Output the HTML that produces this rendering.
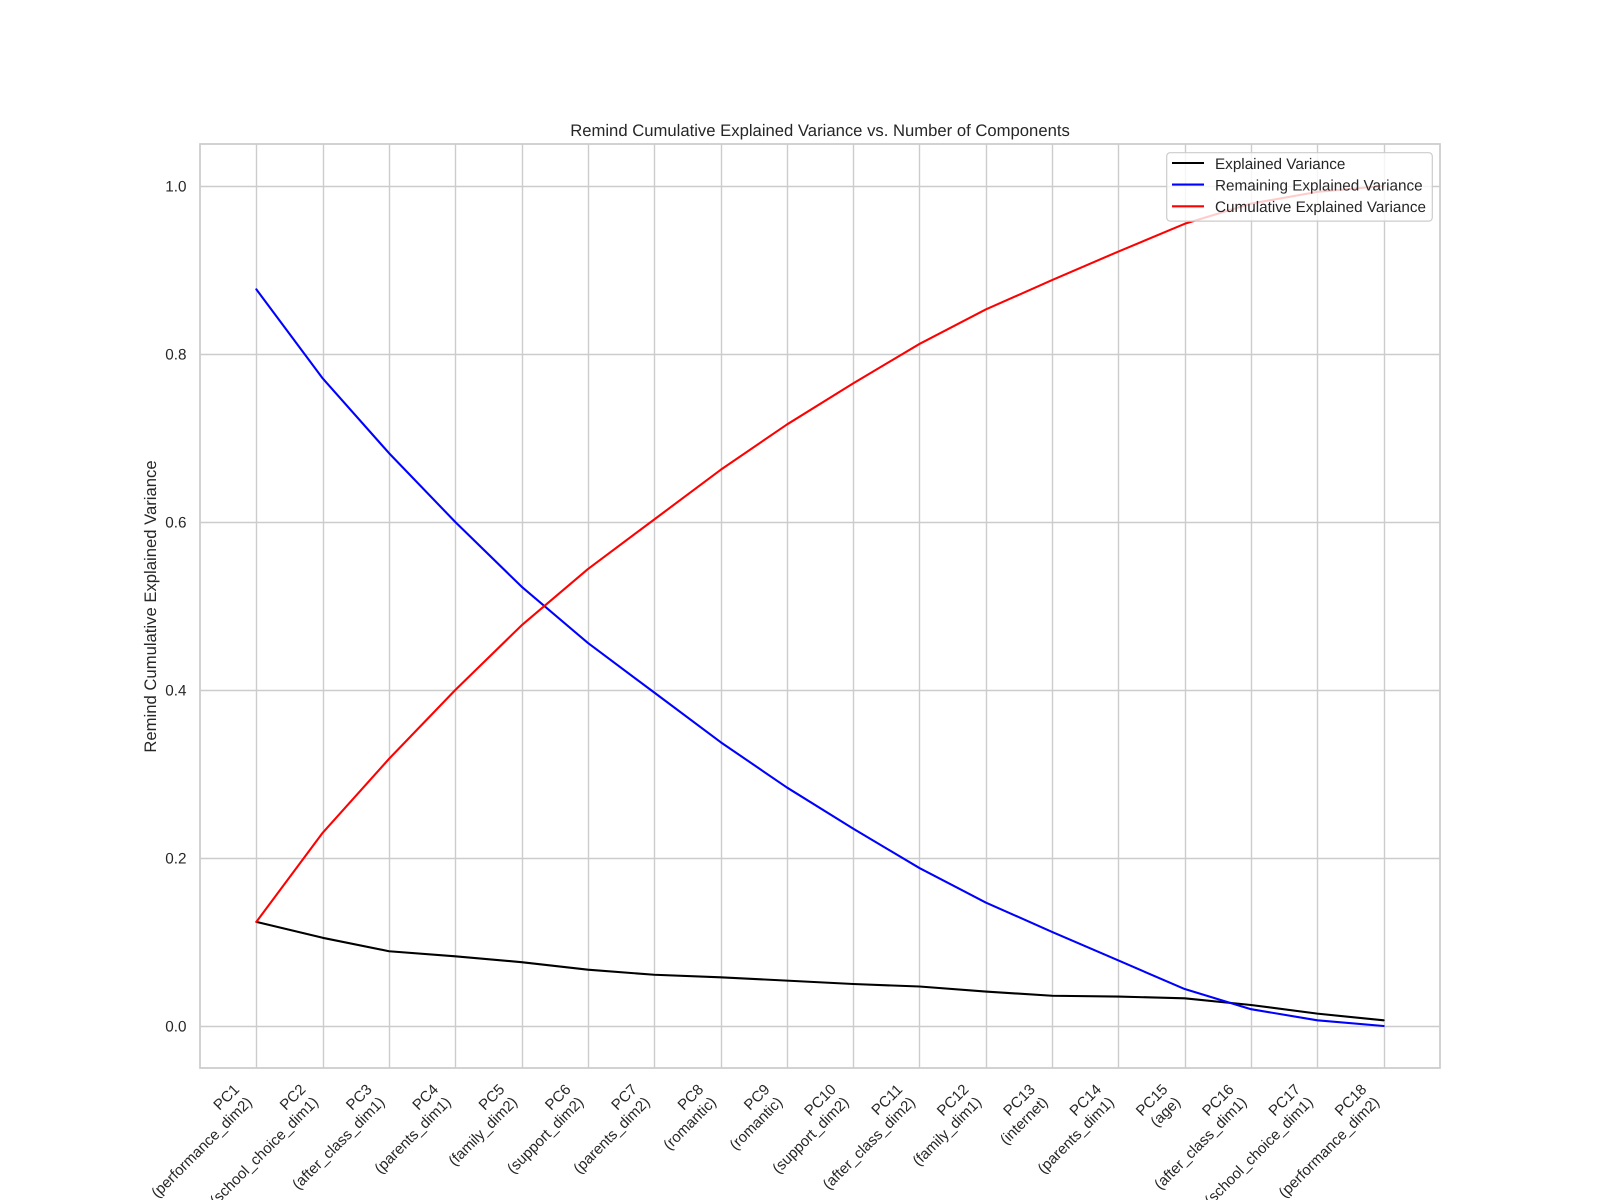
<!DOCTYPE html>
<html lang="en">
<head>
<meta charset="utf-8">
<title>Remind Cumulative Explained Variance vs. Number of Components</title>
<style>
html,body{margin:0;padding:0;background:#fff;width:1600px;height:1200px;overflow:hidden}
svg{display:block;font-family:"Liberation Sans",Arial,sans-serif;fill:#262626}
text{fill:#262626;font-size:15.28px;text-rendering:geometricPrecision}
#xticks text{font-size:15px}
</style>
</head>
<body>
<svg id="chart" xmlns="http://www.w3.org/2000/svg" width="1600" height="1200" viewBox="0 0 1600 1200">
  <rect x="0" y="0" width="1600" height="1200" fill="#fff"/>
  <g id="grid"></g>
  <g id="series"></g>
  <rect x="200" y="144" width="1240" height="924" fill="none" stroke="#cccccc" stroke-width="1.74"/>
  <g id="xticks"></g>
  <g id="yticks"></g>
  <text x="820" y="136" text-anchor="middle" style="font-size:16.67px">Remind Cumulative Explained Variance vs. Number of Components</text>
  <text transform="translate(156,606.5) rotate(-90)" text-anchor="middle" style="font-size:16.67px">Remind Cumulative Explained Variance</text>
  <g>
    <rect x="1166.7" y="152.7" width="265.6" height="68.4" rx="3.5" ry="3.5" fill="#fff" fill-opacity="0.8" stroke="#cccccc" stroke-width="1.2"/>
    <g>
      <line x1="1172" x2="1204" y1="163" y2="163" stroke="#000000" stroke-width="2.08"/>
      <text x="1215" y="169">Explained Variance</text>
    </g>
    <g>
      <line x1="1172" x2="1204" y1="184.6" y2="184.6" stroke="#0000ff" stroke-width="2.08"/>
      <text x="1215" y="190.5">Remaining Explained Variance</text>
    </g>
    <g>
      <line x1="1172" x2="1204" y1="206.3" y2="206.3" stroke="#ff0000" stroke-width="2.08"/>
      <text x="1215" y="212.2">Cumulative Explained Variance</text>
    </g>
  </g>
</svg>
<script>
const categories = ["PC1","PC2","PC3","PC4","PC5","PC6","PC7","PC8","PC9","PC10","PC11","PC12","PC13","PC14","PC15","PC16","PC17","PC18"];
const features = ["(performance_dim2)","(school_choice_dim1)","(after_class_dim1)","(parents_dim1)","(family_dim2)","(support_dim2)","(parents_dim2)","(romantic)","(romantic)","(support_dim2)","(after_class_dim2)","(family_dim1)","(internet)","(parents_dim1)","(age)","(after_class_dim1)","(school_choice_dim1)","(performance_dim2)"];
const explainedVariance = [0.124,0.105,0.089,0.083,0.076,0.067,0.061,0.058,0.054,0.050,0.047,0.041,0.036,0.035,0.033,0.025,0.0147,0.0068];
const remainingVariance = [0.877,0.771,0.682,0.600,0.523,0.456,0.397,0.338,0.284,0.235,0.188,0.147,0.112,0.078,0.044,0.020,0.0068,0.0];
const cumulativeVariance = [0.124,0.230,0.318,0.400,0.477,0.544,0.603,0.662,0.716,0.765,0.812,0.853,0.888,0.922,0.955,0.979,0.993,1.0];
const yTickValues = [0.0,0.2,0.4,0.6,0.8,1.0];

const NS = "http://www.w3.org/2000/svg";
const plot = {left:200,right:1440,top:144,bottom:1068};
const xMin = -0.05 * (categories.length - 1);
const xMax = (categories.length - 1) * 1.05;
const allValues = explainedVariance.concat(remainingVariance, cumulativeVariance);
const vMin = Math.min.apply(null, allValues);
const vMax = Math.max.apply(null, allValues);
const yMin = vMin - 0.05 * (vMax - vMin);
const yMax = vMax + 0.05 * (vMax - vMin);
function xScale(i){ return plot.left + (i - xMin) / (xMax - xMin) * (plot.right - plot.left); }
function yScale(v){ return plot.bottom - (v - yMin) / (yMax - yMin) * (plot.bottom - plot.top); }
function snap(p){ return Math.floor(p + 0.5) + 0.5; }

const grid = document.getElementById("grid");
const xticks = document.getElementById("xticks");
const yticks = document.getElementById("yticks");
const series = document.getElementById("series");

categories.forEach(function(cat, i){
  const x = xScale(i);
  const gl = document.createElementNS(NS, "line");
  
  
  gl.setAttribute("x1", snap(x)); gl.setAttribute("x2", snap(x));
  gl.setAttribute("y1", plot.top); gl.setAttribute("y2", plot.bottom);
  gl.setAttribute("stroke", "#cccccc"); gl.setAttribute("stroke-width", "1.39");
  grid.appendChild(gl);

  const t = document.createElementNS(NS, "text");
  
  
  t.setAttribute("transform", "translate(" + (x - 16.2) + ",1090.3) rotate(-45)");
  t.setAttribute("text-anchor", "end");
  const a = document.createElementNS(NS, "tspan");
  a.setAttribute("x", "0"); a.setAttribute("y", "0");
  a.textContent = cat;
  const b = document.createElementNS(NS, "tspan");
  b.setAttribute("x", "0"); b.setAttribute("y", "18");
  b.textContent = features[i];
  t.appendChild(a); t.appendChild(b);
  xticks.appendChild(t);
});

yTickValues.forEach(function(v){
  const y = yScale(v);
  const gl = document.createElementNS(NS, "line");
  
  
  gl.setAttribute("x1", plot.left); gl.setAttribute("x2", plot.right);
  gl.setAttribute("y1", snap(y)); gl.setAttribute("y2", snap(y));
  gl.setAttribute("stroke", "#cccccc"); gl.setAttribute("stroke-width", "1.39");
  grid.appendChild(gl);

  const t = document.createElementNS(NS, "text");
  
  
  t.setAttribute("x", "186.5"); t.setAttribute("y", y + 5.5);
  t.setAttribute("text-anchor", "end");
  t.textContent = v.toFixed(1);
  yticks.appendChild(t);
});

function pointsFor(values){
  return values.map(function(v, i){ return xScale(i).toFixed(2) + "," + yScale(v).toFixed(2); }).join(" ");
}
const explainedLine = document.createElementNS(NS, "polyline");


explainedLine.setAttribute("points", pointsFor(explainedVariance));
explainedLine.setAttribute("fill", "none");
explainedLine.setAttribute("stroke", "#000000");
explainedLine.setAttribute("stroke-width", "2.08");
explainedLine.setAttribute("stroke-linecap", "round");
explainedLine.setAttribute("stroke-linejoin", "round");
series.appendChild(explainedLine);

const remainingLine = document.createElementNS(NS, "polyline");


remainingLine.setAttribute("points", pointsFor(remainingVariance));
remainingLine.setAttribute("fill", "none");
remainingLine.setAttribute("stroke", "#0000ff");
remainingLine.setAttribute("stroke-width", "2.08");
remainingLine.setAttribute("stroke-linecap", "round");
remainingLine.setAttribute("stroke-linejoin", "round");
series.appendChild(remainingLine);

const cumulativeLine = document.createElementNS(NS, "polyline");


cumulativeLine.setAttribute("points", pointsFor(cumulativeVariance));
cumulativeLine.setAttribute("fill", "none");
cumulativeLine.setAttribute("stroke", "#ff0000");
cumulativeLine.setAttribute("stroke-width", "2.08");
cumulativeLine.setAttribute("stroke-linecap", "round");
cumulativeLine.setAttribute("stroke-linejoin", "round");
series.appendChild(cumulativeLine);
</script>
</body>
</html>
